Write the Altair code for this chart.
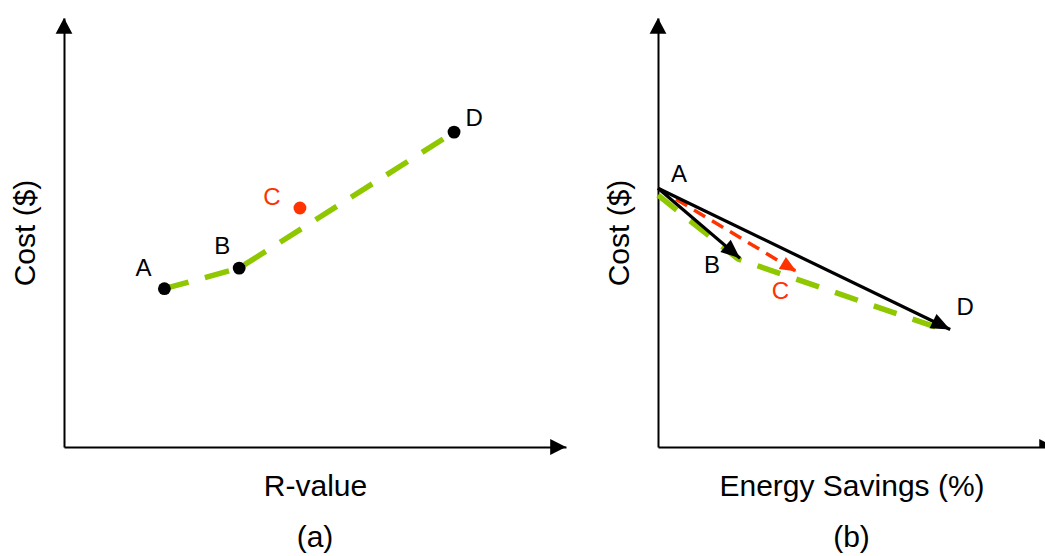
import math
import altair as alt
import pandas as pd

FONT = "Liberation Sans"
GREEN = "#8FC700"
RED = "#FF3300"

# ---------------- data ----------------
# Panel (a): cost vs R-value
a_names = ["A", "B", "C", "D"]
a_rvalue = [2.0, 3.49, 4.70, 7.77]
a_cost = [3.69, 4.17, 5.57, 7.34]
a_front = ["A", "B", "D"]  # green dashed frontier

# Panel (b): cost vs energy savings
b_names = ["A", "B", "C", "D"]
b_savings = [0.0, 2.12, 3.58, 7.55]
b_cost = [6.03, 4.40, 4.09, 2.74]
b_front_savings = [0.0, 2.07, 7.29]
b_front_cost = [5.87, 4.38, 2.76]

AX_MAX = 10.0
WA, WB, H = 502, 387, 429   # plot sizes in px
B_XARROW = 10.26            # x-axis arrow tip of panel (b), beyond the window edge

# ---------------- shared helpers ----------------
DOM = [0, AX_MAX]
ARROW_R = "M0,0L-1,-0.42L-1,0.42Z"     # arrowhead pointing right, tip at origin
AXIS_UP = "M0,0L0.53,1L-0.53,1Z"       # arrowhead pointing up, tip at origin
AXIS_RIGHT = "M0,0L-1,-0.5L-1,0.5Z"


def axis(title):
    return alt.Axis(title=title, ticks=False, labels=False, grid=False,
                    domainColor="black", domainWidth=2, titlePadding=24,
                    titleFontSize=30, titleFont=FONT, titleFontWeight="normal",
                    titleColor="black")


def encoders(xtitle, ytitle):
    def xe(field):
        return alt.X(f"{field}:Q", scale=alt.Scale(domain=DOM, nice=False),
                     axis=axis(xtitle))

    def ye(field):
        return alt.Y(f"{field}:Q", scale=alt.Scale(domain=DOM, nice=False),
                     axis=axis(ytitle))
    return xe, ye


def axis_arrows(xe, ye, xmax, clip=False):
    up = alt.Chart(pd.DataFrame({"x": [0.0], "y": [AX_MAX]})).mark_point(
        shape=AXIS_UP, size=1000, filled=True, opacity=1, color="black", strokeWidth=0
    ).encode(x=xe("x"), y=ye("y"))
    right = alt.Chart(pd.DataFrame({"x": [xmax], "y": [0.0]})).mark_point(
        shape=AXIS_RIGHT, size=1000, filled=True, opacity=1, color="black",
        strokeWidth=0, clip=clip
    ).encode(x=xe("x"), y=ye("y"))
    return [up, right]


# ---------------- panel (a) ----------------
xa, ya = encoders("R-value", "Cost ($)")
da = pd.DataFrame({"name": a_names, "x": a_rvalue, "y": a_cost})
fa = da.set_index("name").loc[a_front].reset_index()
fa["order"] = range(len(fa))

a_base = alt.Chart(fa).mark_line(
    color=GREEN, strokeWidth=5.5, strokeDash=[25, 17]
).encode(x=xa("x"), y=ya("y"), order="order:Q")

a_pts = alt.Chart(da).mark_circle(size=165, opacity=1).encode(
    x=xa("x"), y=ya("y"),
    color=alt.Color("name:N", scale=alt.Scale(domain=a_names,
                    range=["black", "black", RED, "black"]), legend=None),
)

a_label_off = {"A": (-21, -20), "B": (-17, -21), "C": (-28, -10), "D": (20, -13)}
a_texts = []
for n in a_names:
    dx, dy = a_label_off[n]
    a_texts.append(
        alt.Chart(da[da["name"] == n]).mark_text(
            font=FONT, fontSize=24, dx=dx, dy=dy, align="center", baseline="middle",
            color=RED if n == "C" else "black"
        ).encode(x=xa("x"), y=ya("y"), text="name:N")
    )

panel_a = alt.layer(a_base, *axis_arrows(xa, ya, AX_MAX), a_pts, *a_texts).properties(
    width=WA, height=H,
    title=alt.TitleParams("(a)", orient="bottom", fontSize=30, font=FONT,
                          fontWeight="normal", color="black", offset=22,
                          anchor="middle"),
)

# ---------------- panel (b) ----------------
xb, yb = encoders("Energy Savings (%)", "Cost ($)")
db = pd.DataFrame({"name": b_names, "x": b_savings, "y": b_cost})
x0, y0 = b_savings[0], b_cost[0]
arrows = db.iloc[1:].copy()
arrows["x0"] = x0
arrows["y0"] = y0
arrows["ang"] = [
    (math.degrees(math.atan2((y0 - yy) * H / AX_MAX, (xx - x0) * WB / AX_MAX)) + 360) % 360
    for xx, yy in zip(arrows["x"], arrows["y"])
]
fb = pd.DataFrame({"x": b_front_savings, "y": b_front_cost,
                   "order": range(len(b_front_savings))})

b_front = alt.Chart(fb).mark_line(
    color=GREEN, strokeWidth=5.5, strokeDash=[24, 17]
).encode(x=xb("x"), y=yb("y"), order="order:Q")

red = arrows[arrows["name"] == "C"]
black = arrows[arrows["name"] != "C"]

b_red_line = alt.Chart(red).mark_rule(color=RED, strokeWidth=3.5, strokeDash=[13, 8]).encode(
    x=xb("x0"), y=yb("y0"), x2="x", y2="y")
b_red_head = alt.Chart(red).mark_point(
    shape=ARROW_R, size=1100, filled=True, opacity=1, color=RED, strokeWidth=0
).encode(x=xb("x"), y=yb("y"), angle=alt.Angle("ang:Q", scale=None))

b_blk_line = alt.Chart(black).mark_rule(color="black", strokeWidth=3.2).encode(
    x=xb("x0"), y=yb("y0"), x2="x", y2="y")
b_blk_head = alt.Chart(black).mark_point(
    shape=ARROW_R, size=1450, filled=True, opacity=1, color="black", strokeWidth=0
).encode(x=xb("x"), y=yb("y"), angle=alt.Angle("ang:Q", scale=None))

b_label_off = {"A": (21, -13), "B": (-28, 8), "C": (-16, 20), "D": (15, -21)}
b_texts = []
for n in b_names:
    dx, dy = b_label_off[n]
    b_texts.append(
        alt.Chart(db[db["name"] == n]).mark_text(
            font=FONT, fontSize=24, dx=dx, dy=dy, align="center", baseline="middle",
            color=RED if n == "C" else "black"
        ).encode(x=xb("x"), y=yb("y"), text="name:N")
    )

panel_b = alt.layer(b_front, *axis_arrows(xb, yb, B_XARROW, clip=True), b_red_line,
                    b_red_head, b_blk_line, b_blk_head, *b_texts).properties(
    width=WB, height=H,
    title=alt.TitleParams("(b)", orient="bottom", fontSize=30, font=FONT,
                          fontWeight="normal", color="black", offset=22,
                          anchor="middle"),
)

chart = alt.hconcat(panel_a, panel_b, spacing=92, bounds="flush").properties(
    padding={"left": 10, "top": 18, "right": 0, "bottom": 0},
    background="white",
).configure_view(stroke=None)

chart.save("out.html", embed_options={"renderer": "svg", "actions": False})
